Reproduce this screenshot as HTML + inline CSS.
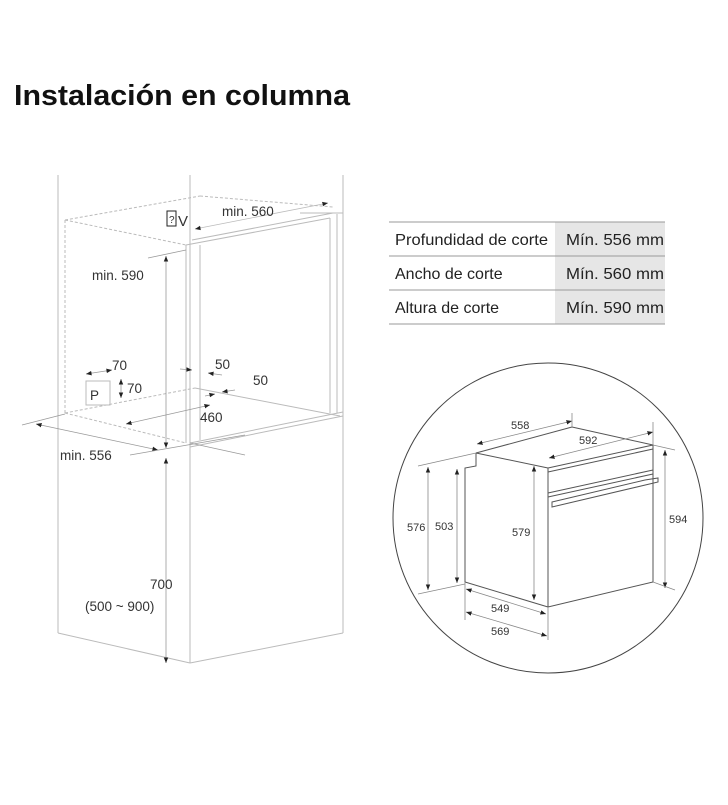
<!DOCTYPE html>
<html><head><meta charset="utf-8"><style>
body{margin:0;background:#fff;width:728px;height:800px;overflow:hidden;font-family:"Liberation Sans",sans-serif}
</style></head><body>
<svg width="728" height="800" viewBox="0 0 728 800" xmlns="http://www.w3.org/2000/svg" font-family="Liberation Sans, sans-serif">
<defs>
<marker id="a" viewBox="0 0 10 10" refX="10" refY="5" markerWidth="7" markerHeight="7" orient="auto-start-reverse"><path d="M0,1 L10,5 L0,9 z" fill="#222"/></marker>
</defs>
<text x="14" y="105" font-size="29" font-weight="bold" fill="#111" textLength="336" lengthAdjust="spacingAndGlyphs">Instalación en columna</text>

<!-- left cabinet -->
<g stroke="#bbb" stroke-width="1" fill="none">
<line x1="58" y1="175" x2="58" y2="633"/>
<line x1="190" y1="175" x2="190" y2="663"/>
<line x1="343" y1="175" x2="343" y2="633"/>
<line x1="58" y1="633" x2="190" y2="663"/>
<line x1="190" y1="663" x2="343" y2="633"/>
<line x1="190" y1="447" x2="343" y2="416"/>
<line x1="190" y1="443" x2="343" y2="412"/>
<line x1="186" y1="245" x2="186" y2="443"/>
<line x1="200" y1="245" x2="200" y2="440"/>
<line x1="186" y1="245" x2="330" y2="218"/>
<line x1="192" y1="240" x2="333" y2="213"/>
<line x1="330" y1="218" x2="330" y2="413"/>
<line x1="337" y1="214" x2="337" y2="413"/>
<line x1="195" y1="388" x2="340" y2="416"/>
<line x1="300" y1="213" x2="343" y2="213"/>
<rect x="86" y="381" width="24" height="24"/>
</g>
<g stroke="#bbb" stroke-width="1" fill="none" stroke-dasharray="3,2">
<line x1="65" y1="220" x2="200" y2="196"/>
<line x1="200" y1="196" x2="333" y2="207"/>
<line x1="65" y1="220" x2="186" y2="245"/>
<line x1="65" y1="220" x2="65" y2="413"/>
<line x1="65" y1="413" x2="186" y2="443"/>
<line x1="65" y1="413" x2="195" y2="388"/>
</g>
<!-- dims left -->
<g stroke="#999" stroke-width="0.8" fill="none">
<line x1="195" y1="229" x2="328" y2="203" marker-start="url(#a)" marker-end="url(#a)" stroke="#bbb"/>
<line x1="166" y1="256" x2="166" y2="448" marker-start="url(#a)" marker-end="url(#a)"/>
<line x1="148" y1="258" x2="186" y2="250"/>
<line x1="166" y1="458" x2="166" y2="663" marker-start="url(#a)" marker-end="url(#a)"/>
<line x1="36" y1="424" x2="158" y2="450" marker-start="url(#a)" marker-end="url(#a)"/>
<line x1="22" y1="425" x2="65" y2="414"/>
<line x1="126" y1="424" x2="210" y2="405" marker-start="url(#a)" marker-end="url(#a)"/>
<line x1="86" y1="374" x2="112" y2="370" marker-start="url(#a)" marker-end="url(#a)"/>
<line x1="121" y1="379" x2="121" y2="398" marker-start="url(#a)" marker-end="url(#a)"/>
<line x1="180" y1="369" x2="192" y2="370" marker-end="url(#a)"/>
<line x1="222" y1="375" x2="208" y2="373" marker-end="url(#a)"/>
<line x1="235" y1="390" x2="222" y2="392" marker-end="url(#a)"/>
<line x1="205" y1="396" x2="215" y2="394" marker-end="url(#a)"/>
<line x1="130" y1="455" x2="245" y2="435"/>
<line x1="190" y1="443" x2="245" y2="455"/>
</g>
<g font-size="13.5" fill="#333">
<text x="222" y="216">min. 560</text>
<rect x="167" y="211" width="9" height="15" fill="none" stroke="#222"/>
<text x="169" y="223" font-size="10">?</text>
<text x="178" y="226" font-size="15">V</text>
<text x="92" y="280">min. 590</text>
<text x="112" y="370">70</text>
<text x="127" y="393">70</text>
<text x="90" y="400">P</text>
<text x="215" y="369">50</text>
<text x="253" y="385">50</text>
<text x="200" y="422">460</text>
<text x="60" y="460">min. 556</text>
<text x="150" y="589">700</text>
<text x="85" y="611">(500 ~ 900)</text>
</g>

<!-- table -->
<rect x="555" y="222" width="110" height="102" fill="#e6e6e6"/>
<g stroke="#999" stroke-width="1">
<line x1="389" y1="222" x2="665" y2="222"/>
<line x1="389" y1="256" x2="665" y2="256"/>
<line x1="389" y1="290" x2="665" y2="290"/>
<line x1="389" y1="324" x2="665" y2="324"/>
</g>
<g font-size="16" fill="#222">
<text x="395" y="245" textLength="153" lengthAdjust="spacingAndGlyphs">Profundidad de corte</text>
<text x="395" y="279">Ancho de corte</text>
<text x="395" y="313">Altura de corte</text>
<text x="566" y="245" textLength="98" lengthAdjust="spacingAndGlyphs">Mín. 556 mm</text>
<text x="566" y="279" textLength="98" lengthAdjust="spacingAndGlyphs">Mín. 560 mm</text>
<text x="566" y="313" textLength="98" lengthAdjust="spacingAndGlyphs">Mín. 590 mm</text>
</g>

<!-- circle -->
<circle cx="548" cy="518" r="155" fill="none" stroke="#444" stroke-width="1"/>
<g stroke="#555" stroke-width="1" fill="none">
<polygon points="548,468 653,445 653,582 548,607"/>
<line x1="548" y1="472" x2="653" y2="449"/>
<line x1="548" y1="493" x2="653" y2="470"/>
<line x1="548" y1="497" x2="653" y2="474"/>
<polygon points="552,502 645,480 658,478 658,482 552,507"/>
<line x1="476" y1="453" x2="548" y2="468"/>
<line x1="476" y1="453" x2="572" y2="427"/>
<line x1="572" y1="427" x2="653" y2="445"/>
<polyline points="476,453 476,466 465,468 465,582 548,607"/>
</g>
<g stroke="#888" stroke-width="0.8" fill="none">
<line x1="428" y1="467" x2="428" y2="590" marker-start="url(#a)" marker-end="url(#a)"/>
<line x1="457" y1="469" x2="457" y2="583" marker-start="url(#a)" marker-end="url(#a)"/>
<line x1="534" y1="466" x2="534" y2="600" marker-start="url(#a)" marker-end="url(#a)"/>
<line x1="665" y1="450" x2="665" y2="588" marker-start="url(#a)" marker-end="url(#a)"/>
<line x1="466" y1="589" x2="546" y2="614" marker-start="url(#a)" marker-end="url(#a)"/>
<line x1="466" y1="612" x2="547" y2="636" marker-start="url(#a)" marker-end="url(#a)"/>
<line x1="477" y1="444" x2="572" y2="421" marker-start="url(#a)" marker-end="url(#a)"/>
<line x1="549" y1="458" x2="653" y2="432" marker-start="url(#a)" marker-end="url(#a)"/>
<line x1="418" y1="466" x2="476" y2="453"/>
<line x1="418" y1="594" x2="465" y2="584"/>
<line x1="572" y1="413" x2="572" y2="427"/>
<line x1="653" y1="422" x2="653" y2="445"/>
<line x1="548" y1="607" x2="548" y2="640"/>
<line x1="465" y1="582" x2="465" y2="620"/>
<line x1="653" y1="445" x2="675" y2="450"/>
<line x1="653" y1="582" x2="675" y2="590"/>
</g>
<g font-size="11" fill="#333">
<text x="511" y="429">558</text>
<text x="579" y="444">592</text>
<text x="407" y="531">576</text>
<text x="435" y="530">503</text>
<text x="512" y="536">579</text>
<text x="669" y="523">594</text>
<text x="491" y="612">549</text>
<text x="491" y="635">569</text>
</g>
</svg>
</body></html>
